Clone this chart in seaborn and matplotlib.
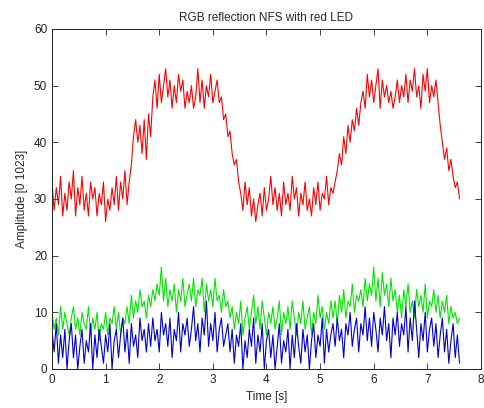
import numpy as np
import pandas as pd
import matplotlib
matplotlib.use("Agg")
import matplotlib.pyplot as plt
import seaborn as sns

# Time axis: 191 samples, 0.04 s apart (0 .. 7.6 s)
t_start, t_end, n_samples = 0.0, 7.6, 191

red = [33, 28, 32, 29, 34, 27, 31, 28, 33, 30, 35, 27, 32, 29, 34, 28, 31, 27, 33, 30,
       32, 27, 31, 29, 33, 26, 30, 28, 32, 29, 34, 28, 33, 30, 35, 29, 33,
       36, 41, 44,
       40, 43, 38, 44, 37, 45, 41,
       48, 51, 46, 52, 47, 50, 53, 48, 51, 46, 50, 47, 52, 49, 51, 46, 49, 47, 50, 46,
       48, 53, 47, 51, 46, 50, 48, 52, 47, 49, 51, 47,
       48, 44, 45, 41, 42, 38, 36, 37, 33,
       31, 28, 33, 29, 32, 27, 30, 26, 29, 31, 27, 32, 28, 30, 34, 29, 32, 28, 31, 27,
       33, 29, 31, 28, 34, 30, 32, 27, 31, 29, 33, 28, 30, 27, 32, 29, 33, 28, 31, 30,
       34, 29, 32, 31,
       33, 35, 38, 36, 41, 38, 43, 40, 44, 42, 46, 43, 47,
       49, 46, 52, 48, 51, 47, 50, 53, 46, 51, 48, 50, 47, 49, 46, 48, 51, 47, 50, 48,
       52, 47, 51, 49, 53, 48, 50, 46, 52, 49, 53, 47, 50, 48, 51, 47,
       43, 40, 37, 39, 35, 37, 34, 32, 33, 30]

green = [10, 7, 9, 6, 11, 7, 10, 8, 6, 9, 11, 7, 9, 6, 10, 8, 7, 11, 6, 9,
         7, 10, 5, 8, 7, 10, 6, 9, 8, 11, 7, 10, 6, 9, 8,
         11, 8, 13, 9, 12, 10, 14, 11, 12, 9, 13,
         11, 14, 12, 15, 13, 18, 12, 16, 11, 14, 12, 15, 10, 14, 12, 16, 11, 13, 15, 12,
         16, 11, 14, 13, 16, 10, 15, 12, 14, 11, 16, 12, 13, 10, 14, 11, 12,
         9, 11, 7, 10, 8, 12, 6, 9, 11, 7, 10, 13, 8, 11, 7, 12, 9, 6, 10, 8,
         11, 7, 9, 12, 6, 10, 8, 11, 7, 12, 9, 6, 10, 8, 12, 7, 9, 11, 6, 10,
         8, 13, 9, 11, 7, 10, 8, 12,
         9, 12, 8, 13, 10, 14, 9, 12, 11, 15, 10, 13, 12, 14,
         11, 16, 12, 15, 13, 18, 12, 16, 11, 17, 13, 15, 11, 16, 12, 14,
         10, 13, 9, 14, 11, 15, 10, 12, 9, 14, 11, 13, 10, 15, 9, 12, 11, 14, 10, 13,
         9, 12, 10, 13, 8, 11, 9,
         10, 8, 9]

blue = [7, 3, 8, 1, 6, 2, 7, 0, 5, 8, 2, 6, 0, 4, 7, 1, 5, 3, 8, 0,
        6, 2, 7, 4, 1, 6, 3, 8, 0, 5, 7, 2, 6, 9, 3, 7, 1, 8, 4, 6,
        2, 9, 5, 7, 3,
        8, 4, 9, 5, 7, 3, 10, 6, 8, 4, 9, 2, 7, 5, 10, 3, 8, 6, 9, 4,
        7, 11, 5, 8, 3, 9, 6, 12, 4, 8, 5, 10, 3, 7, 9, 4, 6, 8,
        3, 7, 1, 6, 4, 8, 0, 5, 2, 7, 4, 9, 1, 6, 3, 8, 0, 5, 7, 2,
        6, 0, 4, 8, 1, 5, 3, 7, 0, 6, 2, 8, 4, 1, 7, 3, 6, 0, 5, 8,
        2, 6, 4, 9, 1, 7, 3, 6,
        8, 4, 9, 5, 7, 2, 8, 6, 10, 4, 7, 9, 3, 8, 6, 11, 5, 9, 4, 10,
        7, 3, 9, 6, 11, 5, 8, 2, 9, 6,
        10, 4, 8, 6, 11, 3, 9, 5, 12, 7, 2, 8, 5, 10, 3, 7, 9, 4, 8, 2,
        6, 9, 3, 7, 1, 5, 8, 2, 6, 1]

x_ticks = [0, 1, 2, 3, 4, 5, 6, 7, 8]
y_ticks = [0, 10, 20, 30, 40, 50, 60]

time = np.linspace(t_start, t_end, n_samples)
df = pd.DataFrame({"t": time, "R": red, "G": green, "B": blue})

sns.set_style("ticks")
plt.rcParams["font.family"] = ["Liberation Sans", "DejaVu Sans"]
plt.rcParams["xtick.direction"] = "in"
plt.rcParams["ytick.direction"] = "in"

fig = plt.figure(figsize=(4.85, 4.08), dpi=100)
ax = fig.add_axes([0.1072, 0.0956, 0.8845, 0.8334])

sns.lineplot(data=df, x="t", y="R", ax=ax, color="#ff0000", linewidth=0.8)
sns.lineplot(data=df, x="t", y="G", ax=ax, color="#00e600", linewidth=0.8)
sns.lineplot(data=df, x="t", y="B", ax=ax, color="#0000d0", linewidth=0.8)

ax.set_xlim(0, 8)
ax.set_ylim(0, 60)
ax.set_xticks(x_ticks)
ax.set_yticks(y_ticks)
ax.tick_params(axis="both", which="both", direction="in", length=4, width=0.6,
               labelsize=8.5, top=True, right=True, colors="#222222")
for s in ax.spines.values():
    s.set_visible(True)
    s.set_linewidth(0.7)
    s.set_color("#222222")
ax.set_xlabel("Time [s]", fontsize=8.5)
ax.set_ylabel("Amplitude [0 1023]", fontsize=8.5)
ax.set_title("RGB reflection NFS with red LED", fontsize=8.5, pad=6)

fig.savefig("out.png", dpi=100)
